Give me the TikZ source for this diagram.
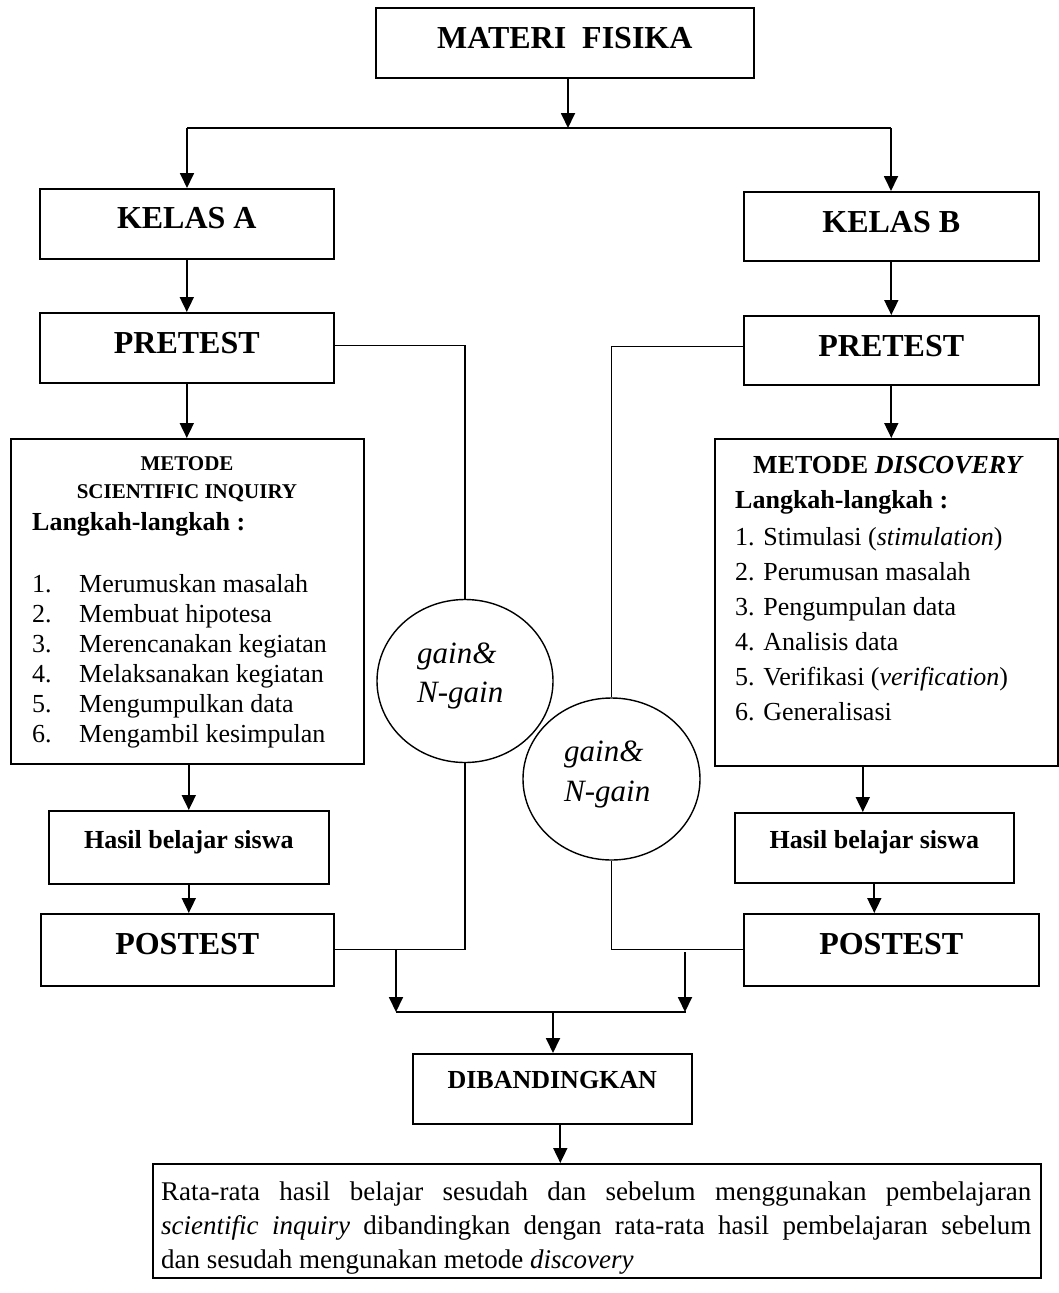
\documentclass[tikz,border=0pt]{standalone}
\usepackage{fontspec}
\setmainfont{Liberation Serif}
\usetikzlibrary{arrows.meta,shapes.geometric}
\newcommand\Bf[1]{\fontsize{#1}{#1}\selectfont\bfseries}
\newcommand\Rf[1]{\fontsize{#1}{#1}\selectfont}
\newcommand\If[1]{\fontsize{#1}{#1}\selectfont\itshape}
\begin{document}
\begin{tikzpicture}[x=1pt,y=-1pt,
 box/.style={draw, line width=1.6pt, inner sep=0pt, rectangle, anchor=north west},
 arr/.style={-{Triangle[width=14pt,length=15pt]}, line width=1.8pt},
 thinline/.style={line width=1.1pt},
 txt/.style={inner sep=0pt, anchor=base west},
 ctxt/.style={inner sep=0pt, anchor=base},
 circ/.style={ellipse, draw, line width=1.4pt, inner sep=0pt},
]
\useasboundingbox (0,0) rectangle (1059,1293);
\fill[white] (0,0) rectangle (1059,1293);

% top
\node[box, minimum width=378pt, text height=41pt, text depth=29pt, font=\Bf{32}] (mf) at (375,7) {MATERI~ FISIKA};
\node[box, minimum width=294pt, text height=40pt, text depth=30pt, font=\Bf{32}] (ka) at (39,188) {KELAS A};
\node[box, minimum width=295pt, text height=41pt, text depth=28pt, font=\Bf{32}] (kb) at (743,191) {KELAS B};
\node[box, minimum width=294pt, text height=41pt, text depth=29pt, font=\Bf{32}] (pa) at (39,312) {PRETEST};
\node[box, minimum width=295pt, text height=41pt, text depth=28pt, font=\Bf{32}] (pb) at (743,315) {PRETEST};

% method boxes
\node[box, minimum width=353pt, minimum height=325pt] (si) at (10,438) {};
\node[box, minimum width=343pt, minimum height=327pt] (db) at (714,438) {};

\node[ctxt, font=\Bf{21}] (siA) at (187,470) {METODE};
\node[ctxt, font=\Bf{21}] (siB) at (187,498) {SCIENTIFIC INQUIRY};
\node[txt, font=\Bf{26}] (siC) at (32,530) {Langkah-langkah :};
\node[txt, font=\Rf{26}] (n1) at (32,592) {1.};
\node[txt, font=\Rf{26}] (n2) at (32,622) {2.};
\node[txt, font=\Rf{26}] (n3) at (32,652) {3.};
\node[txt, font=\Rf{26}] (n4) at (32,682) {4.};
\node[txt, font=\Rf{26}] (n5) at (32,712) {5.};
\node[txt, font=\Rf{26}] (n6) at (32,742) {6.};
\node[txt, font=\Rf{26}] (s1) at (79,592) {Merumuskan masalah};
\node[txt, font=\Rf{26}] (s2) at (79,622) {Membuat hipotesa};
\node[txt, font=\Rf{26}] (s3) at (79,652) {Merencanakan kegiatan};
\node[txt, font=\Rf{26}] (s4) at (79,682) {Melaksanakan kegiatan};
\node[txt, font=\Rf{26}] (s5) at (79,712) {Mengumpulkan data};
\node[txt, font=\Rf{26}] (s6) at (79,742) {Mengambil kesimpulan};

\node[txt, font=\Bf{26}] (dA) at (753,473) {METODE \textit{DISCOVERY}};
\node[txt, font=\Bf{26}] (dB) at (735,508) {Langkah-langkah :};
\node[txt, font=\Rf{26}] (d1) at (735,545) {1. Stimulasi (\textit{stimulation})};
\node[txt, font=\Rf{26}] (d2) at (735,580) {2. Perumusan masalah};
\node[txt, font=\Rf{26}] (d3) at (735,615) {3. Pengumpulan data};
\node[txt, font=\Rf{26}] (d4) at (735,650) {4. Analisis data};
\node[txt, font=\Rf{26}] (d5) at (735,685) {5. Verifikasi (\textit{verification})};
\node[txt, font=\Rf{26}] (d6) at (735,720) {6. Generalisasi};

% results
\node[box, minimum width=280pt, text height=38pt, text depth=35pt, font=\Bf{26}] (ha) at (48,810) {Hasil belajar siswa};
\node[box, minimum width=279pt, text height=36pt, text depth=34pt, font=\Bf{26}] (hb) at (734,812) {Hasil belajar siswa};
\node[box, minimum width=293pt, text height=41pt, text depth=31pt, font=\Bf{32}] (qa) at (40,913) {POSTEST};
\node[box, minimum width=295pt, text height=41pt, text depth=31pt, font=\Bf{32}] (qb) at (743,913) {POSTEST};

% circles
\node[circ, minimum width=176pt, minimum height=163pt] (c1) at (465,681) {};
\node[circ, minimum width=177pt, minimum height=162pt] (c2) at (611.5,779) {};
\node[txt, font=\If{31}] (c1a) at (417,663) {gain\&};
\node[txt, font=\If{31}] (c1b) at (417,702) {N-gain};
\node[txt, font=\If{31}] (c2a) at (564,761) {gain\&};
\node[txt, font=\If{31}] (c2b) at (564,801) {N-gain};

% bottom
\node[box, minimum width=279pt, text height=35pt, text depth=35pt, font=\Bf{26}] (dib) at (412,1053) {DIBANDINGKAN};
\node[box, minimum width=888pt, minimum height=114pt] (bb) at (152,1163) {};
\node[txt, font=\Rf{27}] (bt1) at (161,1200) {\hbox to 870pt{Rata-rata hasil belajar sesudah dan sebelum menggunakan pembelajaran}};
\node[txt, font=\Rf{27}] (bt2) at (161,1234) {\hbox to 870pt{\textit{scientific inquiry} dibandingkan dengan rata-rata hasil pembelajaran sebelum}};
\node[txt, font=\Rf{27}] (bt3) at (161,1268) {dan sesudah mengunakan metode \textit{discovery}};

% connectors top
\coordinate (tl) at (187,128);
\coordinate (tr) at (891,128);
\coordinate (tm) at (568,128);
\draw[arr] (mf.south -| tm) -- (tm);
\draw[line width=1.8pt] (tl) -- (tr);
\draw[arr] (tl) -- (tl |- ka.north);
\draw[arr] (tr) -- (tr |- kb.north);
\draw[arr] (ka.south) -- (pa.north);
\draw[arr] (kb.south) -- (pb.north);
\draw[arr] (pa.south) -- (pa.south |- si.north);
\draw[arr] (pb.south) -- (pb.south |- db.north);
\draw[arr] (ha.north |- si.south) -- (ha.north);
\draw[arr] ([xshift=-11.5pt]hb.north |- db.south) -- ([xshift=-11.5pt]hb.north);
\draw[arr] (ha.south) -- (ha.south |- qa.north);
\draw[arr] (hb.south) -- (hb.south |- qb.north);

% thin connectors via circles
\draw[thinline] ([yshift=2pt]pa.east) -| (c1.north);
\draw[thinline] (c1.south) |- (qa.east);
\draw[thinline] ([yshift=4pt]pb.west) -| (c2.north);
\draw[thinline] (c2.south) |- (qb.west);

% merge
\coordinate (sl) at (396,950);
\coordinate (sr) at (685,952);
\coordinate (ml) at (396,1012);
\coordinate (mr) at (686,1012);
\coordinate (mc) at (553,1012);
\draw[arr] (sl) -- (ml);
\draw[arr] (sr) -- (sr |- mr);
\draw[line width=1.6pt] (ml) -- (mr);
\draw[arr] (mc) -- (mc |- dib.north);
\draw[arr] ([xshift=8pt]dib.south) -- ([xshift=8pt]dib.south |- bb.north);
\end{tikzpicture}
\end{document}
